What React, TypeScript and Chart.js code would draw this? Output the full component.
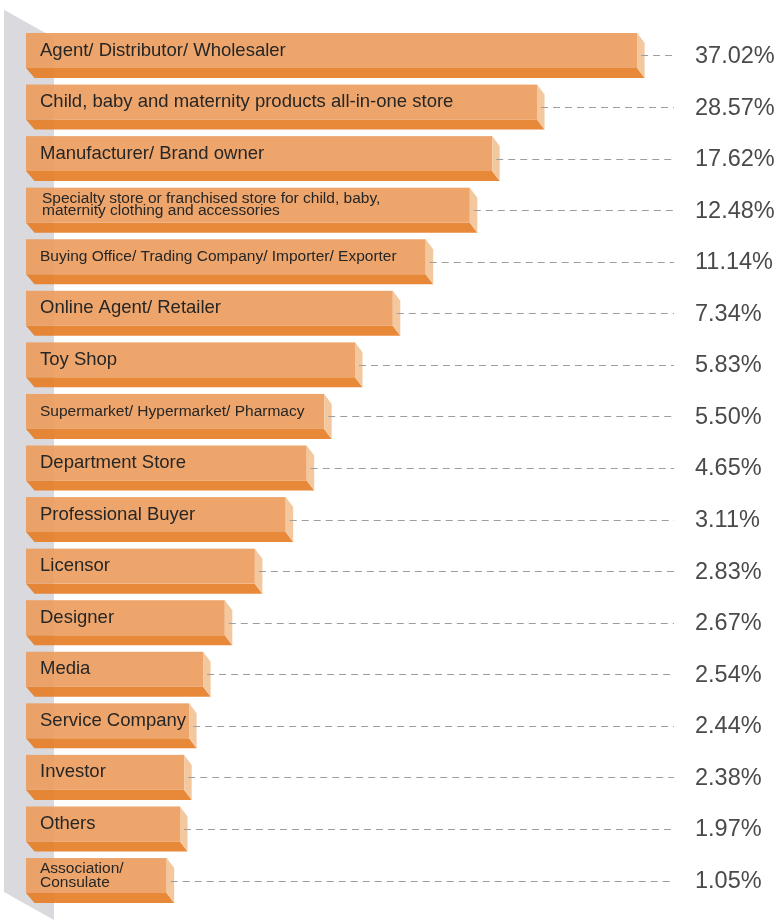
import React, { useEffect, useRef } from "react";
import { Chart, registerables } from "chart.js";

Chart.register(...registerables);

const categories: (string | string[])[] = [
  "Agent/ Distributor/ Wholesaler",
  "Child, baby and maternity products all-in-one store",
  "Manufacturer/ Brand owner",
  ["Specialty store or franchised store for child, baby,", "maternity clothing and accessories"],
  "Buying Office/ Trading Company/ Importer/ Exporter",
  "Online Agent/ Retailer",
  "Toy Shop",
  "Supermarket/ Hypermarket/ Pharmacy",
  "Department Store",
  "Professional Buyer",
  "Licensor",
  "Designer",
  "Media",
  "Service Company",
  "Investor",
  "Others",
  ["Association/", "Consulate"],
];

// visual bar lengths (as drawn in the picture, 0-100 scale)
const barLengths = [
  87.3, 73.0, 66.6, 63.4, 57.1, 52.4, 47.0, 42.6, 40.1, 37.1, 32.7, 28.4, 25.3, 23.3, 22.6, 22.0, 20.1,
];

const percentLabels = [
  "37.02%", "28.57%", "17.62%", "12.48%", "11.14%", "7.34%", "5.83%", "5.50%", "4.65%",
  "3.11%", "2.83%", "2.67%", "2.54%", "2.44%", "2.38%", "1.97%", "1.05%",
];

const FONT = '"Liberation Sans", Arial, Helvetica, sans-serif';
const SMALL_LABELS = new Set([3, 4, 7, 16]);

const bar3dPlugin = {
  id: "bar3d",
  beforeDatasetsDraw(chart: any) {
    const { ctx, chartArea } = chart;
    const l = chartArea.left;
    ctx.save();
    ctx.fillStyle = "rgb(218,218,222)";
    ctx.beginPath();
    ctx.moveTo(l - 22, chartArea.top - 20);
    ctx.lineTo(l + 28, chartArea.top + 8);
    ctx.lineTo(l + 28, chart.height);
    ctx.lineTo(l - 22, chart.height - 28);
    ctx.closePath();
    ctx.fill();
    ctx.restore();
  },
  afterDatasetsDraw(chart: any) {
    const { ctx } = chart;
    const meta = chart.getDatasetMeta(0);
    const dx = 7.5;
    const dy = 10;
    const valueX = chart.width - 83;
    const dashEnd = chart.width - 104;
    meta.data.forEach((el: any, i: number) => {
      const p = el.getProps(["x", "y", "base", "height"], true);
      const base = p.base;
      const x = p.x;
      const top = p.y - p.height / 2;
      const bottom = p.y + p.height / 2;
      ctx.save();
      // bottom face
      ctx.fillStyle = "rgba(229,123,36,0.9)";
      ctx.beginPath();
      ctx.moveTo(base, bottom - dy);
      ctx.lineTo(x, bottom - dy);
      ctx.lineTo(x + dx, bottom);
      ctx.lineTo(base + dx + 1, bottom);
      ctx.closePath();
      ctx.fill();
      // front face
      ctx.fillStyle = "rgba(235,155,92,0.9)";
      ctx.fillRect(base, top, x - base, bottom - dy - top);
      // side face
      ctx.fillStyle = "rgb(243,200,158)";
      ctx.beginPath();
      ctx.moveTo(x, top);
      ctx.lineTo(x + dx, top + dy);
      ctx.lineTo(x + dx, bottom);
      ctx.lineTo(x, bottom - dy);
      ctx.closePath();
      ctx.fill();
      // leader line
      ctx.strokeStyle = "rgb(158,158,158)";
      ctx.lineWidth = 1.2;
      ctx.setLineDash([7, 5]);
      ctx.beginPath();
      ctx.moveTo(x + 4, Math.round(p.y) + 0.5);
      ctx.lineTo(dashEnd, Math.round(p.y) + 0.5);
      ctx.stroke();
      ctx.setLineDash([]);
      // category label
      const lab = categories[i];
      const small = SMALL_LABELS.has(i);
      ctx.fillStyle = "#262626";
      ctx.textAlign = "left";
      ctx.textBaseline = "middle";
      ctx.font = `${small ? 15.5 : 18.5}px ${FONT}`;
      const faceMid = top + (bottom - dy - top) / 2;
      if (Array.isArray(lab)) {
        const lh = i === 3 ? 12 : 13.5;
        const start = faceMid - ((lab.length - 1) * lh) / 2;
        lab.forEach((s, k) => ctx.fillText(s, base + 14 + (i === 3 ? 2 : 0), start + k * lh));
      } else {
        ctx.fillText(lab, base + 14, faceMid);
      }
      // value label
      ctx.fillStyle = "#4a4a4a";
      ctx.font = `23.5px ${FONT}`;
      ctx.fillText(percentLabels[i], valueX, p.y + 1);
      ctx.restore();
    });
  },
};

export default function App() {
  const ref = useRef<HTMLCanvasElement>(null);
  useEffect(() => {
    if (!ref.current) return;
    const chart = new Chart(ref.current, {
      type: "bar",
      data: {
        labels: categories.map((c) => (Array.isArray(c) ? c.join(" ") : c)),
        datasets: [
          {
            data: barLengths,
            backgroundColor: "rgba(0,0,0,0)",
            borderWidth: 0,
            barPercentage: 1,
            categoryPercentage: 45 / 51.57,
          },
        ],
      },
      options: {
        indexAxis: "y",
        responsive: false,
        animation: false,
        layout: { padding: { left: 26, right: 52, top: 29.7, bottom: 13.7 } },
        scales: {
          x: { display: false, min: 0, max: 100 },
          y: { display: false },
        },
        plugins: { legend: { display: false }, tooltip: { enabled: false } },
      },
      plugins: [bar3dPlugin],
    });
    return () => chart.destroy();
  }, []);
  return (
    <div style={{ position: "absolute", left: 0, top: 0, width: 778, height: 920, background: "#fff" }}>
      <canvas ref={ref} width={778} height={920} style={{ display: "block" }} />
    </div>
  );
}
